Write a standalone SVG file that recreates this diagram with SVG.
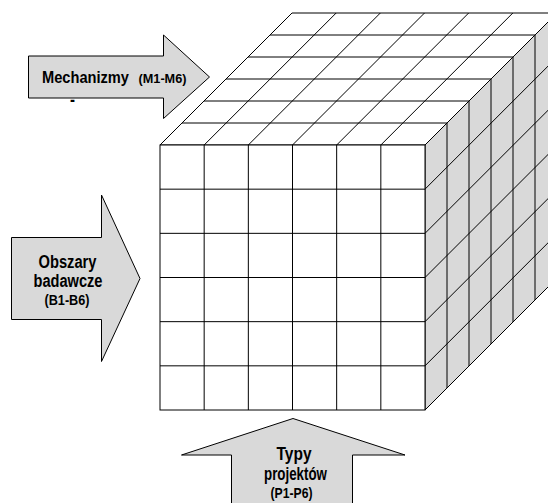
<svg xmlns="http://www.w3.org/2000/svg" width="548" height="503" viewBox="0 0 548 503">
<style>
.ar{fill:#d9d9d9;stroke:#000;stroke-width:1}
.ln{stroke:#000;stroke-width:1;fill:none}
.t{font-family:"Liberation Sans",Arial,sans-serif;font-weight:bold;fill:#000}
</style>
<rect width="548" height="503" fill="#fff"/>
<g id="cube">
  <polygon points="160,145 425,145 557,13 292,13" fill="#fff" stroke="#000" stroke-width="1"/>
  <polygon points="425,145 557,13 557,278 425,410" fill="#d9d9d9" stroke="#000" stroke-width="1"/>
  <rect x="160" y="145" width="265" height="265" fill="#fff" stroke="#000" stroke-width="1"/>
  <g class="ln">
    <!-- top face horizontals -->
    <line x1="182" y1="123" x2="447" y2="123"/>
    <line x1="204" y1="101" x2="469" y2="101"/>
    <line x1="226" y1="79" x2="491" y2="79"/>
    <line x1="248" y1="57" x2="513" y2="57"/>
    <line x1="270" y1="35" x2="535" y2="35"/>
    <!-- top face diagonals -->
    <line x1="204.17" y1="145" x2="336.17" y2="13"/>
    <line x1="248.33" y1="145" x2="380.33" y2="13"/>
    <line x1="292.5" y1="145" x2="424.5" y2="13"/>
    <line x1="336.67" y1="145" x2="468.67" y2="13"/>
    <line x1="380.83" y1="145" x2="512.83" y2="13"/>
    <!-- right face verticals -->
    <line x1="447" y1="123" x2="447" y2="388"/>
    <line x1="469" y1="101" x2="469" y2="366"/>
    <line x1="491" y1="79" x2="491" y2="344"/>
    <line x1="513" y1="57" x2="513" y2="322"/>
    <line x1="535" y1="35" x2="535" y2="300"/>
    <!-- right face diagonals -->
    <line x1="425" y1="189.17" x2="557" y2="57.17"/>
    <line x1="425" y1="233.33" x2="557" y2="101.33"/>
    <line x1="425" y1="277.5" x2="557" y2="145.5"/>
    <line x1="425" y1="321.67" x2="557" y2="189.67"/>
    <line x1="425" y1="365.83" x2="557" y2="233.83"/>
    <!-- front face grid -->
    <line x1="204.17" y1="145" x2="204.17" y2="410"/>
    <line x1="248.33" y1="145" x2="248.33" y2="410"/>
    <line x1="292.5" y1="145" x2="292.5" y2="410"/>
    <line x1="336.67" y1="145" x2="336.67" y2="410"/>
    <line x1="380.83" y1="145" x2="380.83" y2="410"/>
    <line x1="160" y1="189.17" x2="425" y2="189.17"/>
    <line x1="160" y1="233.33" x2="425" y2="233.33"/>
    <line x1="160" y1="277.5" x2="425" y2="277.5"/>
    <line x1="160" y1="321.67" x2="425" y2="321.67"/>
    <line x1="160" y1="365.83" x2="425" y2="365.83"/>
  </g>
</g>
<g id="mechanizmy">
  <polygon class="ar" points="28.5,56 163.5,56 163.5,35 209.5,77 163.5,118.5 163.5,98 28.5,98"/>
  <text class="t" x="42" y="83" font-size="16" textLength="87" lengthAdjust="spacingAndGlyphs">Mechanizmy</text>
  <text class="t" x="138.5" y="83" font-size="13" textLength="48" lengthAdjust="spacingAndGlyphs">(M1-M6)</text>
  <text class="t" x="70" y="106" font-size="18" textLength="5" lengthAdjust="spacingAndGlyphs">-</text>
</g>
<g id="obszary">
  <polygon class="ar" points="11.5,237.5 101.5,237.5 101.5,195 140,278.5 101.5,361.5 101.5,319.5 11.5,319.5"/>
  <text class="t" x="67.5" y="268" font-size="18" text-anchor="middle" textLength="58" lengthAdjust="spacingAndGlyphs">Obszary</text>
  <text class="t" x="68" y="286.5" font-size="18" text-anchor="middle" textLength="69" lengthAdjust="spacingAndGlyphs">badawcze</text>
  <text class="t" x="67" y="305" font-size="15" text-anchor="middle" textLength="45" lengthAdjust="spacingAndGlyphs">(B1-B6)</text>
</g>
<g id="typy">
  <polygon class="ar" points="293,418.5 405,455 352.5,455 352.5,510 231.5,510 231.5,455 181.5,455"/>
  <text class="t" x="294" y="460" font-size="18" text-anchor="middle" textLength="35" lengthAdjust="spacingAndGlyphs">Typy</text>
  <text class="t" x="295.5" y="480" font-size="18" text-anchor="middle" textLength="63" lengthAdjust="spacingAndGlyphs">projektów</text>
  <text class="t" x="291.5" y="498" font-size="15" text-anchor="middle" textLength="42" lengthAdjust="spacingAndGlyphs">(P1-P6)</text>
</g>
</svg>
